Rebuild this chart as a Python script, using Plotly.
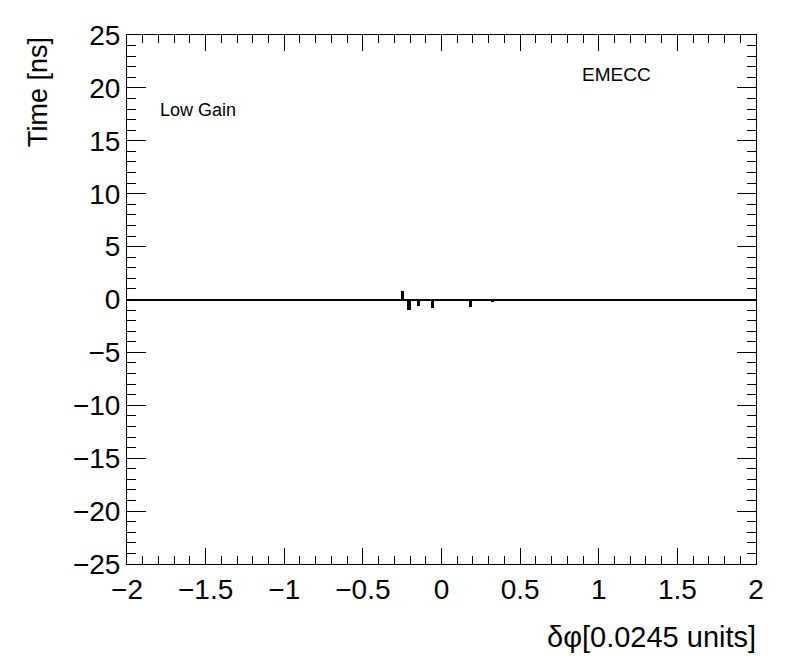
import plotly.graph_objects as go

# non-empty bins of the timing histogram (bin centre in dphi units, mean time in ns)
dphi = [-0.248, -0.207, -0.146, -0.057, 0.183, 0.324]
time_ns = [0.85, -0.95, -0.6, -0.8, -0.7, -0.2]

x_ticks = [-2, -1.5, -1, -0.5, 0, 0.5, 1, 1.5, 2]
y_ticks = [-25, -20, -15, -10, -5, 0, 5, 10, 15, 20, 25]

FONT = "Liberation Sans, Arial, sans-serif"

fig = go.Figure(
    go.Bar(
        x=dphi,
        y=time_ns,
        width=0.02,
        marker={"color": "black", "line": {"width": 0}},
        showlegend=False,
    )
)

axis_common = dict(
    showgrid=False,
    showline=True,
    linecolor="black",
    linewidth=1,
    mirror="allticks",
    ticks="inside",
    tickcolor="black",
    tickwidth=1,
    tickfont={"family": FONT, "size": 28, "color": "black"},
)

fig.update_xaxes(
    range=[-2, 2],
    tickvals=x_ticks,
    ticktext=[f"{v:g}".replace("-", "\u2212") for v in x_ticks],
    ticklen=16,
    minor={"dtick": 0.1, "ticklen": 8, "ticks": "inside", "tickcolor": "black", "showgrid": False},
    zeroline=False,
    **axis_common,
)
fig.update_yaxes(
    range=[-25, 25],
    tickvals=y_ticks,
    ticktext=[f"{v:g}".replace("-", "\u2212") for v in y_ticks],
    ticklen=19,
    minor={"dtick": 1, "ticklen": 9, "ticks": "inside", "tickcolor": "black", "showgrid": False},
    zeroline=True,
    zerolinecolor="black",
    zerolinewidth=2,
    **axis_common,
)

# the page body has an 8px margin, so the figure is a bit smaller than the window
fig.update_layout(
    width=788,
    height=664,
    margin={"l": 119, "r": 40, "t": 25, "b": 108},
    plot_bgcolor="white",
    paper_bgcolor="white",
    bargap=0,
    font={"family": FONT, "color": "black"},
    annotations=[
        dict(text="Time [ns]", textangle=-90, xref="paper", yref="paper",
             x=-0.1415, y=1.0, xanchor="center", yanchor="top", showarrow=False,
             font={"size": 27}),
        dict(text="\u03b4\u03c6[0.0245 units]", xref="paper", yref="paper",
             x=1.003, y=-0.104, xanchor="right", yanchor="top", showarrow=False,
             font={"size": 29}),
        dict(text="Low Gain", xref="paper", yref="paper",
             x=0.05, y=0.858, xanchor="left", yanchor="middle", showarrow=False,
             font={"size": 18}),
        dict(text="EMECC", xref="paper", yref="paper",
             x=0.72, y=0.925, xanchor="left", yanchor="middle", showarrow=False,
             font={"size": 19}),
    ],
)

fig.write_html("out.html")
